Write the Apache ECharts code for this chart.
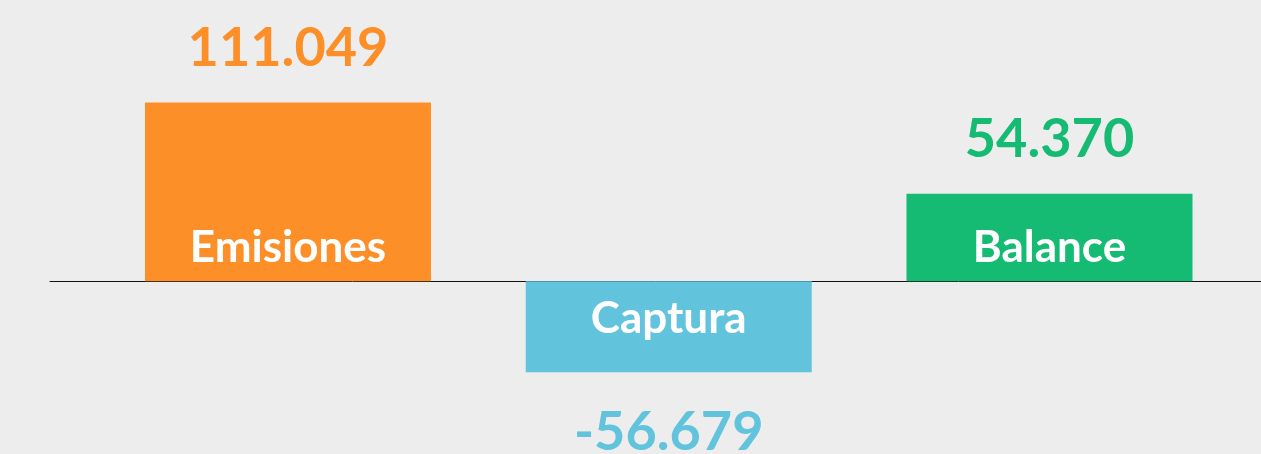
<!DOCTYPE html>
<html>
<head>
<meta charset="utf-8">
<script src="https://cdn.jsdelivr.net/npm/echarts@6/dist/echarts.min.js"></script>
<style>
  html, body { margin: 0; padding: 0; background: #ededed; }
  #chart { width: 1261px; height: 454px; }
</style>
</head>
<body>
<div id="chart"></div>
<script>
// chart data
const categories = ['Emisiones', 'Captura', 'Balance'];
const values = [111049, -56679, 54370];
const colors = ['#fd8f29', '#62c3dc', '#15bb73'];

// thousands separator with a dot, as in the original
const formatNumber = (v) => {
    const s = Math.abs(v).toString().replace(/\B(?=(\d{3})+(?!\d))/g, '.');
    return (v < 0 ? '-' : '') + s;
};

const chart = echarts.init(document.getElementById('chart'));

const barData = values.map((v, i) => ({
    value: [i, v],
    itemStyle: { color: colors[i] },
    label: { position: v < 0 ? 'insideTop' : 'insideBottom', distance: v < 0 ? 16 : 11 }
}));

const valueData = values.map((v, i) => ({
    value: [i, v],
    label: { position: v < 0 ? 'bottom' : 'top', color: colors[i], distance: v < 0 ? 33 : 27 }
}));

const option = {
    backgroundColor: '#ededed',
    animation: false,
    grid: { left: 50, right: 0, top: 0, bottom: 0 },
    xAxis: {
        type: 'value',
        min: -0.625,
        max: 2.5555,
        axisLine: { show: true, onZero: true, lineStyle: { color: '#111', width: 1 } },
        axisTick: { show: false },
        axisLabel: { show: false },
        splitLine: { show: false }
    },
    yAxis: {
        type: 'value',
        min: -107400,
        max: 174700,
        show: false,
        splitLine: { show: false }
    },
    series: [
        {
            name: 'names',
            type: 'bar',
            barWidth: 286,
            data: barData,
            z: 1,
            label: {
                show: true,
                color: '#ffffff',
                fontFamily: 'Lato',
                fontWeight: 'bold',
                fontSize: 44,
                formatter: (p) => categories[p.dataIndex]
            }
        },
        {
            name: 'values',
            type: 'bar',
            barWidth: 286,
            barGap: '-100%',
            data: valueData,
            z: 2,
            itemStyle: { color: 'transparent' },
            label: {
                show: true,
                fontFamily: 'Lato',
                fontWeight: 'bold',
                fontSize: 54,
                formatter: (p) => formatNumber(p.value[1])
            }
        }
    ]
};

chart.setOption(option);
</script>
</body>
</html>
